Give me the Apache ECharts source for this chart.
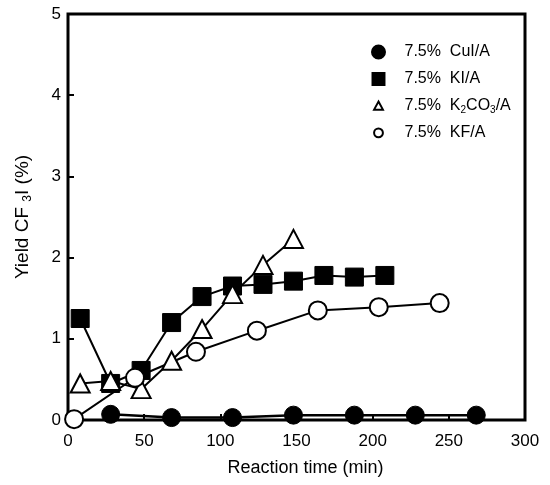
<!DOCTYPE html>
<html>
<head>
<meta charset="utf-8">
<script src="https://cdn.jsdelivr.net/npm/echarts@6/dist/echarts.min.js"></script>
<style>
html,body{margin:0;padding:0;background:#fff;}
#chart{width:550px;height:485px;}
</style>
</head>
<body>
<div id="chart"></div>
<script>
// ---- data ----
var seriesNames = ['7.5%  CuI/A', '7.5%  KI/A', '7.5%  K2CO3/A', '7.5%  KF/A'];

var timeCuI  = [28, 68, 108, 148, 188, 228, 268];
var yieldCuI = [0.07, 0.03, 0.03, 0.06, 0.06, 0.06, 0.06];

var timeKI  = [8, 28, 48, 68, 88, 108, 128, 148, 168, 188, 208];
var yieldKI = [1.25, 0.45, 0.61, 1.20, 1.52, 1.65, 1.67, 1.71, 1.78, 1.76, 1.78];

var timeK2CO3  = [8, 28, 48, 68, 88, 108, 128, 148];
var yieldK2CO3 = [0.45, 0.48, 0.38, 0.73, 1.12, 1.55, 1.91, 2.23];

var timeKF  = [4, 44, 84, 124, 164, 204, 244];
var yieldKF = [0.01, 0.52, 0.84, 1.10, 1.35, 1.39, 1.44];

var xTicks = [0, 50, 100, 150, 200, 250, 300];
var yTicks = [0, 1, 2, 3, 4, 5];

function pairs(xs, ys) { return xs.map(function (x, i) { return [x, ys[i]]; }); }

var FONT = '"Liberation Sans", Arial, sans-serif';
var chart = echarts.init(document.getElementById('chart'), null, {renderer: 'canvas'});

var legendLabels = {};
legendLabels[seriesNames[0]] = '7.5%  CuI/A';
legendLabels[seriesNames[1]] = '7.5%  KI/A';
legendLabels[seriesNames[2]] = '7.5%  K{sub|2}CO{sub|3}/A';
legendLabels[seriesNames[3]] = '7.5%  KF/A';

var filled = {color: '#000', borderColor: '#000', borderWidth: 1};
var open = {color: '#fff', borderColor: '#000', borderWidth: 2};

var option = {
  backgroundColor: '#fff',
  animation: false,
  grid: {left: 68, right: 25, top: 14, bottom: 65, show: true, borderColor: '#000', borderWidth: 3, backgroundColor: 'transparent'},
  legend: {
    left: 371, top: 43, orient: 'vertical', padding: 0,
    itemWidth: 42, itemHeight: 13, itemGap: 9,
    textStyle: {fontFamily: FONT, fontSize: 16, color: '#000', lineHeight: 18,
      rich: {sub: {fontFamily: FONT, fontSize: 10, lineHeight: 10, verticalAlign: 'bottom', color: '#000'}}},
    formatter: function (n) { return legendLabels[n]; },
    data: [
      {name: seriesNames[0], icon: 'circle'},
      {name: seriesNames[1], icon: 'path://M0,0M100,100M4,4L96,4L96,96L4,96Z'},
      {name: seriesNames[2], icon: 'path://M0,0M100,100M50,16L84,78L16,78Z'},
      {name: seriesNames[3], icon: 'path://M0,0M100,100M50,15A34,34 0 1 1 49.9,15Z'}
    ]
  },
  xAxis: {
    type: 'value', min: 0, max: 300, interval: 50,
    name: 'Reaction time (min)', nameLocation: 'middle', nameGap: 39,
    nameTextStyle: {fontFamily: FONT, fontSize: 18, color: '#000', padding: [0, 0, 0, 18]},
    axisLine: {show: false},
    axisTick: {show: true, inside: true, length: 6, lineStyle: {color: '#000', width: 2}},
    axisLabel: {fontFamily: FONT, fontSize: 17, color: '#000', margin: 13,
      formatter: function (v) { return xTicks.indexOf(v) >= 0 ? String(v) : ''; }},
    splitLine: {show: false}
  },
  yAxis: {
    type: 'value', min: 0, max: 5, interval: 1,
    name: 'Yield CF {sub|3}I (%)', nameLocation: 'middle', nameGap: 34,
    nameTextStyle: {fontFamily: FONT, fontSize: 19, color: '#000', lineHeight: 22,
      rich: {sub: {fontFamily: FONT, fontSize: 12, lineHeight: 12, verticalAlign: 'bottom', color: '#000'}}},
    axisLine: {show: false},
    axisTick: {show: true, inside: true, length: 6, lineStyle: {color: '#000', width: 2}},
    axisLabel: {fontFamily: FONT, fontSize: 17, color: '#000', margin: 7,
      formatter: function (v) { return yTicks.indexOf(v) >= 0 ? String(v) : ''; }},
    splitLine: {show: false}
  },
  series: [
    {name: seriesNames[0], type: 'line', data: pairs(timeCuI, yieldCuI), symbol: 'circle', symbolSize: 18,
      lineStyle: {color: '#000', width: 2.5}, itemStyle: filled},
    {name: seriesNames[1], type: 'line', data: pairs(timeKI, yieldKI), symbol: 'rect', symbolSize: 18,
      lineStyle: {color: '#000', width: 2}, itemStyle: filled},
    {name: seriesNames[2], type: 'line', data: pairs(timeK2CO3, yieldK2CO3), symbol: 'triangle', symbolSize: [19, 18],
      lineStyle: {color: '#000', width: 2}, itemStyle: open},
    {name: seriesNames[3], type: 'line', data: pairs(timeKF, yieldKF), symbol: 'circle', symbolSize: 18,
      lineStyle: {color: '#000', width: 2}, itemStyle: open}
  ]
};
chart.setOption(option);
</script>
</body>
</html>
